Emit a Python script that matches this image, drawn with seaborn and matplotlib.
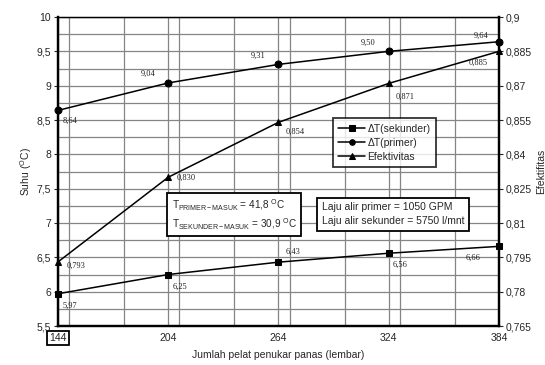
import matplotlib
matplotlib.use("Agg")
import matplotlib.pyplot as plt
import matplotlib.ticker as mticker
import pandas as pd
import seaborn as sns

sns.set_style("white")
plt.rcParams["font.family"] = ["Liberation Sans", "DejaVu Sans"]
plt.rcParams["mathtext.fontset"] = "custom"
plt.rcParams["mathtext.rm"] = "Liberation Sans"
plt.rcParams["mathtext.it"] = "Liberation Sans:italic"
plt.rcParams["mathtext.bf"] = "Liberation Sans:bold"

# data
pelat = [144, 204, 264, 324, 384]
dt_sekunder = [5.97, 6.25, 6.43, 6.56, 6.66]
dt_primer = [8.64, 9.04, 9.31, 9.50, 9.64]
efektivitas = [0.793, 0.830, 0.854, 0.871, 0.885]

lbl_sek = ["5,97", "6,25", "6,43", "6,56", "6,66"]
lbl_pri = ["8,64", "9,04", "9,31", "9,50", "9,64"]
lbl_ef = ["0,793", "0,830", "0,854", "0,871", "0,885"]

df = pd.DataFrame({"pelat": pelat, "sek": dt_sekunder, "pri": dt_primer, "ef": efektivitas})


def comma(v, pos):
    return f"{v:g}".replace(".", ",")


fig = plt.figure(figsize=(5.45, 3.65), dpi=100)
ax = fig.add_axes([0.1064, 0.1068, 0.8092, 0.8466])
ax2 = ax.twinx()

common = dict(color="black", lw=1.1, markersize=5, mec="black", legend=False, clip_on=False)
sns.lineplot(data=df, x="pelat", y="sek", ax=ax, marker="s", label="ΔT(sekunder)", **common)
sns.lineplot(data=df, x="pelat", y="pri", ax=ax, marker="o", label="ΔT(primer)", **common)
sns.lineplot(data=df, x="pelat", y="ef", ax=ax2, marker="^", label="Efektivitas", **common)

ax.set_xlim(144, 384)
ax.set_ylim(5.5, 10)
ax2.set_ylim(0.765, 0.9)
ax.set_xticks(pelat)
ax.xaxis.set_minor_locator(mticker.MultipleLocator(30))
ax.yaxis.set_major_locator(mticker.MultipleLocator(0.5))
ax.yaxis.set_minor_locator(mticker.MultipleLocator(0.25))
ax2.yaxis.set_major_locator(mticker.MultipleLocator(0.015))
ax.yaxis.set_major_formatter(mticker.FuncFormatter(comma))
ax2.yaxis.set_major_formatter(mticker.FuncFormatter(lambda v, p: f"{v:.3f}".rstrip("0").replace(".", ",")))

ax.grid(which="both", color="#858585", lw=0.9)
ax.set_axisbelow(True)
for a in (ax, ax2):
    for s in a.spines.values():
        s.set_color("black")
        s.set_linewidth(0.9)
    for side in ("left", "right", "bottom"):
        a.spines[side].set_linewidth(1.6)

ax.tick_params(axis="y", which="major", direction="out", length=3, width=0.8, labelsize=7.5, pad=2)
ax.tick_params(axis="y", which="minor", length=0)
ax.tick_params(axis="x", which="both", length=0, labelsize=7.5, pad=5)
ax2.tick_params(axis="y", direction="out", length=3, width=0.8, labelsize=7.5, pad=2)

xt = ax.get_xticklabels()
xt[0].set_bbox(dict(facecolor="white", edgecolor="black", lw=1.3, pad=1.5))

ax.set_xlabel("Jumlah pelat penukar panas (lembar)", fontsize=7.5, labelpad=5)
ax.set_ylabel("Suhu ($^{\\mathrm{O}}$C)", fontsize=7.5, labelpad=2)
ax2.set_ylabel("Efektifitas", fontsize=7.5, labelpad=3)

# data labels
serif = dict(fontsize=6, family="Liberation Serif", color="#222222")
off_pri = [(3, -9), (-20, 5), (-20, 5), (-20, 5), (-18, 3)]
off_ef = [(6, -4), (6, -2), (5, -8), (5, -11), (-22, -10)]
off_sek = [(3, -10), (3, -10), (5, 6), (3, -10), (-24, -10)]
for i, x in enumerate(pelat):
    ax.annotate(lbl_pri[i], (x, dt_primer[i]), xytext=off_pri[i], textcoords="offset points", **serif)
    ax2.annotate(lbl_ef[i], (x, efektivitas[i]), xytext=off_ef[i], textcoords="offset points", **serif)
    ax.annotate(lbl_sek[i], (x, dt_sekunder[i]), xytext=off_sek[i], textcoords="offset points", **serif)

h1, l1 = ax.get_legend_handles_labels()
h2, l2 = ax2.get_legend_handles_labels()
leg = ax2.legend(h1 + h2, l1 + l2, loc="upper left", bbox_to_anchor=(0.624, 0.672),
                 fontsize=7.5, frameon=True, fancybox=False, handlelength=2.6,
                 handletextpad=0.2, borderpad=0.5, labelspacing=0.4, markerscale=0.8,
                 borderaxespad=0)
leg.get_frame().set_edgecolor("black")
leg.get_frame().set_linewidth(1.3)

box = dict(boxstyle="square,pad=0.45", facecolor="white", edgecolor="black", lw=1.3)
ax2.text(0.258, 0.361,
         "T$_{\\mathrm{PRIMER-MASUK}}$ = 41,8 $^{\\mathrm{O}}$C\n"
         "T$_{\\mathrm{SEKUNDER-MASUK}}$ = 30,9 $^{\\mathrm{O}}$C",
         transform=ax.transAxes, fontsize=7.2, va="center", ha="left", bbox=box,
         linespacing=1.3, zorder=5)
ax2.text(0.598, 0.361,
         "Laju alir primer = 1050 GPM\nLaju alir sekunder = 5750 l/mnt",
         transform=ax.transAxes, fontsize=7.5, va="center", ha="left", bbox=box,
         linespacing=1.5, zorder=5)

fig.savefig("out.png", dpi=100)
